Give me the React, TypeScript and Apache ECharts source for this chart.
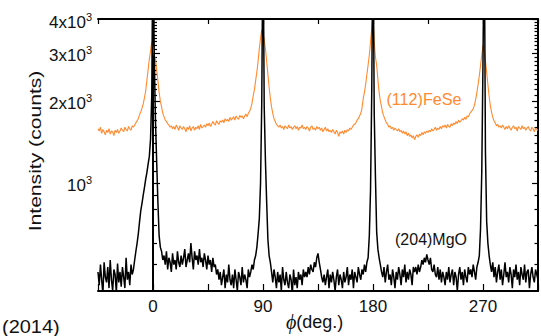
import React, { useEffect, useRef } from 'react';
import * as echarts from 'echarts';

// phi grid: starts at -45 deg, 1 deg step
const PHI_START = -45;
const phiLabels = [0, 90, 180, 270];
const yLabelValues = [1000, 2000, 3000, 4000];
const yMinorTicks = [
  500, 600, 700, 800, 900,
  1100, 1200, 1300, 1400, 1500, 1600, 1700, 1800, 1900,
  2100, 2200, 2300, 2400, 2500, 2600, 2700, 2800, 2900,
  3100, 3200, 3300, 3400, 3500, 3600, 3700, 3800, 3900,
];

// (112)FeSe counts, phi = -45 ... 315
const feSe = [
  1580, 1550, 1600, 1520, 1570, 1540, 1500, 1560, 1530, 1580,
  1510, 1550, 1540, 1490, 1560, 1530, 1570, 1520, 1550, 1590,
  1560, 1540, 1600, 1570, 1550, 1610, 1580, 1560, 1620, 1600,
  1630, 1660, 1690, 1720, 1780, 1820, 1880, 1950, 2050, 2170,
  2380, 2600, 2850, 3050, 3290, 3150, 2950, 2850, 2600, 2380,
  2150, 2000, 1900, 1800, 1750, 1700, 1680, 1650, 1630, 1600,
  1620, 1580, 1610, 1570, 1630, 1600, 1560, 1620, 1590, 1570,
  1610, 1580, 1540, 1600, 1570, 1620, 1550, 1590, 1610, 1560,
  1600, 1580, 1620, 1570, 1640, 1590, 1610, 1630, 1600, 1650,
  1620, 1660, 1610, 1640, 1680, 1650, 1630, 1690, 1660, 1640,
  1690, 1670, 1700, 1660, 1720, 1690, 1710, 1680, 1740, 1700,
  1720, 1750, 1700, 1760, 1730, 1710, 1770, 1740, 1760, 1720,
  1760, 1790, 1750, 1800, 1830, 1880, 1960, 2090, 2200, 2380,
  2560, 2800, 3120, 3400, 3650, 3550, 3350, 3100, 2800, 2500,
  2250, 2050, 1900, 1800, 1720, 1680, 1640, 1620, 1600, 1630,
  1590, 1610, 1570, 1620, 1600, 1580, 1630, 1590, 1610, 1570,
  1600, 1620, 1580, 1610, 1560, 1600, 1590, 1630, 1580, 1600,
  1570, 1610, 1590, 1550, 1600, 1620, 1570, 1590, 1560, 1610,
  1580, 1600, 1560, 1590, 1540, 1570, 1600, 1550, 1580, 1540,
  1560, 1530, 1570, 1540, 1510, 1560, 1530, 1480, 1540, 1520,
  1550, 1510, 1560, 1530, 1570, 1550, 1590, 1570, 1600, 1630,
  1640, 1660, 1700, 1720, 1760, 1800, 1880, 2040, 2150, 2300,
  2500, 2710, 2950, 3300, 3700, 4100, 3300, 2900, 2700, 2400,
  2150, 2000, 1900, 1800, 1750, 1700, 1660, 1640, 1600, 1620,
  1580, 1600, 1560, 1590, 1570, 1550, 1580, 1540, 1560, 1520,
  1550, 1510, 1540, 1490, 1520, 1480, 1500, 1460, 1490, 1440,
  1480, 1500, 1470, 1510, 1490, 1530, 1500, 1540, 1520, 1550,
  1530, 1560, 1540, 1580, 1550, 1570, 1600, 1560, 1590, 1570,
  1610, 1580, 1620, 1600, 1630, 1590, 1640, 1610, 1600, 1650,
  1620, 1660, 1640, 1680, 1650, 1700, 1670, 1690, 1720, 1700,
  1740, 1710, 1760, 1750, 1790, 1820, 1840, 1870, 1930, 2020,
  2150, 2300, 2480, 2700, 2950, 3200, 3050, 2800, 2550, 2300,
  2080, 1920, 1820, 1740, 1690, 1660, 1620, 1640, 1600, 1620,
  1590, 1630, 1600, 1570, 1610, 1580, 1620, 1590, 1560, 1600,
  1620, 1580, 1600, 1550, 1610, 1590, 1570, 1620, 1580, 1600,
  1560, 1590, 1610, 1570, 1550, 1600, 1580, 1540, 1590, 1570,
  1560,
];

// (204)MgO counts, phi = -45 ... 315
const mgO = [
  470, 420, 500, 440, 390, 510, 450, 430, 490, 410,
  520, 440, 400, 480, 460, 395, 505, 430, 470, 415,
  490, 450, 410, 530, 440, 470, 420, 500, 460, 480,
  520, 560, 600, 650, 720, 790, 840, 900, 960, 1030,
  1090, 1170, 1250, 1450, 2100, 9000, 3000, 1700, 1200, 850,
  640, 580, 560, 520, 540, 500, 560, 480, 530, 510,
  470, 550, 500, 520, 480, 560, 510, 490, 540, 500,
  530, 570, 490, 520, 550, 510, 600, 530, 480, 560,
  520, 540, 500, 570, 510, 530, 490, 550, 520, 480,
  540, 500, 520, 470, 530, 490, 500, 460, 480, 440,
  470, 420, 450, 480, 410, 460, 430, 500, 440, 420,
  460, 410, 480, 440, 400, 470, 450, 420, 490, 430,
  460, 440, 410, 480, 450, 470, 500, 480, 520, 540,
  580, 650, 740, 1000, 2000, 9000, 1900, 1200, 850, 620,
  540, 510, 470, 430, 480, 450, 410, 470, 430, 460,
  400, 490, 440, 420, 470, 430, 410, 460, 440, 390,
  480, 420, 450, 410, 470, 440, 460, 420, 480, 450,
  470, 450, 490, 460, 500, 480, 470, 510, 490, 530,
  550, 510, 480, 450, 430, 460, 420, 450, 480, 410,
  460, 430, 470, 440, 400, 450, 480, 420, 460, 440,
  410, 470, 430, 450, 490, 420, 460, 440, 480, 410,
  470, 450, 430, 490, 460, 440, 480, 460, 500, 470,
  510, 530, 640, 950, 2200, 9000, 1800, 1050, 660, 570,
  530, 500, 470, 450, 490, 430, 470, 500, 440, 460,
  420, 480, 450, 410, 470, 440, 490, 460, 420, 480,
  450, 500, 430, 470, 440, 480, 460, 420, 490, 470,
  490, 460, 500, 470, 490, 520, 500, 530, 510, 545,
  520, 500, 530, 480, 470, 500, 460, 450, 490, 440,
  480, 430, 470, 450, 420, 470, 440, 490, 430, 460,
  480, 420, 470, 450, 400, 460, 490, 440, 470, 420,
  480, 450, 430, 490, 460, 480, 450, 500, 470, 440,
  490, 510, 540, 680, 1100, 2800, 9000, 1300, 720, 600,
  540, 500, 470, 510, 450, 490, 430, 470, 500, 440,
  480, 420, 460, 510, 450, 470, 430, 490, 460, 410,
  480, 450, 500, 440, 470, 420, 490, 460, 440, 500,
  430, 470, 480, 410, 460, 490, 450, 430, 480, 460,
  440,
];

const SANS = "'Liberation Sans', Arial, Helvetica, sans-serif";
const NARROW = "'Liberation Sans Narrow', 'Liberation Sans', Arial, sans-serif";

export default function App() {
  const ref = useRef<HTMLDivElement>(null);

  useEffect(() => {
    const chart = echarts.init(ref.current!, null, { renderer: 'svg' });
    const toPairs = (arr: number[]) => arr.map((v, i) => [PHI_START + i, v]);

    const yBase: any = {
      type: 'log',
      logBase: 10,
      min: 400,
      max: 4000,
      splitLine: { show: false },
      axisLine: { show: true, lineStyle: { color: '#000', width: 2 } },
    };
    const xBase: any = {
      type: 'value',
      min: -45,
      max: 315,
      interval: 45,
      splitLine: { show: false },
      axisLine: { show: true, onZero: false, lineStyle: { color: '#000', width: 2 } },
    };

    const option: any = {
      animation: false,
      backgroundColor: '#fff',
      grid: { left: 98, top: 19, width: 442, height: 272, containLabel: false },
      xAxis: [
        {
          ...xBase,
          position: 'bottom',
          axisTick: { inside: true, length: 7, lineStyle: { color: '#000', width: 1.2 } },
          axisLabel: {
            margin: 7,
            color: '#111',
            fontSize: 17,
            fontFamily: NARROW,
            formatter: (v: number) => (phiLabels.indexOf(v) >= 0 ? String(v) : ''),
          },
        },
        {
          ...xBase,
          position: 'top',
          axisTick: { inside: true, length: 5, lineStyle: { color: '#000', width: 1.2 } },
          axisLabel: { show: false },
        },
      ],
      yAxis: [
        {
          ...yBase,
          position: 'left',
          axisTick: {
            inside: true,
            length: 7,
            customValues: yLabelValues,
            lineStyle: { color: '#000', width: 1.2 },
          },
          axisLabel: {
            customValues: yLabelValues,
            margin: 6,
            padding: [6, 0, 0, 0],
            formatter: (v: number) => {
              const m = Math.round(v / 1000);
              return m === 1 ? '{b|10}{s|3}' : `{b|${m}x10}{s|3}`;
            },
            rich: {
              b: { fontSize: 17, fontFamily: NARROW, color: '#111', lineHeight: 22 },
              s: { fontSize: 11, fontFamily: NARROW, color: '#111', verticalAlign: 'top' },
            },
          },
        },
        {
          ...yBase,
          position: 'left',
          axisLine: { show: false },
          axisTick: {
            inside: true,
            length: 4,
            customValues: yMinorTicks,
            lineStyle: { color: '#000', width: 1.2 },
          },
          axisLabel: { show: false },
        },
        {
          ...yBase,
          position: 'right',
          axisTick: {
            inside: true,
            length: 6,
            customValues: yLabelValues,
            lineStyle: { color: '#000', width: 1.2 },
          },
          axisLabel: { show: false },
        },
        {
          ...yBase,
          position: 'right',
          axisLine: { show: false },
          axisTick: {
            inside: true,
            length: 3.5,
            customValues: yMinorTicks,
            lineStyle: { color: '#000', width: 1.2 },
          },
          axisLabel: { show: false },
        },
      ],
      series: [
        {
          name: '(112)FeSe',
          type: 'line',
          xAxisIndex: 0,
          yAxisIndex: 0,
          data: toPairs(feSe),
          showSymbol: false,
          symbol: 'none',
          lineStyle: { color: '#FF8A30', width: 1.1 },
          clip: true,
          z: 2,
        },
        {
          name: '(204)MgO',
          type: 'line',
          xAxisIndex: 0,
          yAxisIndex: 0,
          data: toPairs(mgO),
          showSymbol: false,
          symbol: 'none',
          lineStyle: { color: '#000', width: 1.5 },
          clip: true,
          z: 3,
        },
      ],
      graphic: [
        {
          type: 'text',
          x: 35,
          y: 151,
          rotation: Math.PI / 2,
          scaleX: 1.32,
          style: {
            text: 'Intensity (counts)',
            fontSize: 16,
            fontFamily: SANS,
            fill: '#111',
            align: 'center',
            verticalAlign: 'middle',
            textAlign: 'center',
            textVerticalAlign: 'middle',
          },
        },
        {
          type: 'text',
          x: 424,
          y: 99,
          scaleX: 0.95,
          style: {
            text: '(112)FeSe',
            fontSize: 17,
            fontFamily: SANS,
            fill: '#FF8A30',
            align: 'center',
            verticalAlign: 'middle',
            textAlign: 'center',
            textVerticalAlign: 'middle',
          },
        },
        {
          type: 'text',
          x: 431,
          y: 239,
          scaleX: 0.94,
          style: {
            text: '(204)MgO',
            fontSize: 17,
            fontFamily: SANS,
            fill: '#111',
            align: 'center',
            verticalAlign: 'middle',
            textAlign: 'center',
            textVerticalAlign: 'middle',
          },
        },
        {
          type: 'text',
          x: 286,
          y: 322,
          style: {
            text: '{p|ϕ}{d|(deg.)}',
            rich: {
              p: { fontSize: 20, fontStyle: 'italic', fontFamily: "'Liberation Serif', 'DejaVu Serif', serif", fill: '#111' },
              d: { fontSize: 18, fontFamily: NARROW, fill: '#111' },
            },
            fill: '#111',
            align: 'left',
            verticalAlign: 'middle',
            textAlign: 'left',
            textVerticalAlign: 'middle',
          },
        },
        {
          type: 'text',
          x: 2,
          y: 326,
          scaleX: 1.05,
          style: {
            text: '(2014)',
            fontSize: 19,
            fontFamily: SANS,
            fill: '#111',
            align: 'left',
            verticalAlign: 'middle',
            textAlign: 'left',
            textVerticalAlign: 'middle',
          },
        },
      ],
    };

    chart.setOption(option);
    return () => chart.dispose();
  }, []);

  return (
    <div
      ref={ref}
      style={{ position: 'fixed', left: 0, top: 0, width: 541, height: 336, background: '#fff' }}
    />
  );
}
